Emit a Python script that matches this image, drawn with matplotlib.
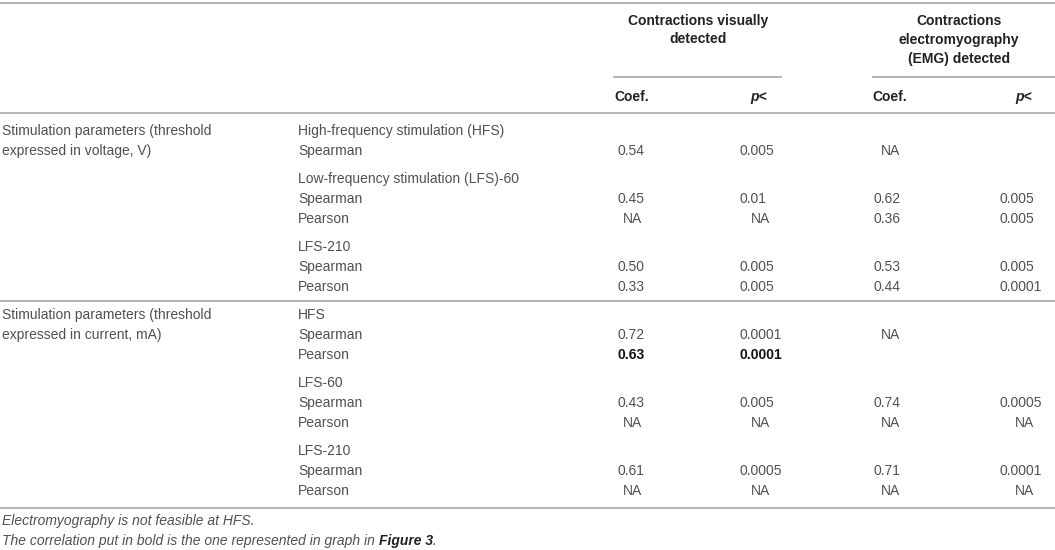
import matplotlib
matplotlib.use("Agg")
import matplotlib.pyplot as plt

# ---- data ----
section_labels = ["Stimulation parameters (threshold\nexpressed in voltage, V)",
                  "Stimulation parameters (threshold\nexpressed in current, mA)"]
group_labels = [["High-frequency stimulation (HFS)", "Low-frequency stimulation (LFS)-60", "LFS-210"],
                ["HFS", "LFS-60", "LFS-210"]]
group_methods = [[["Spearman"], ["Spearman", "Pearson"], ["Spearman", "Pearson"]],
                 [["Spearman", "Pearson"], ["Spearman", "Pearson"], ["Spearman", "Pearson"]]]
vis_coef = ["0.54", "0.45", "NA", "0.50", "0.33", "0.72", "0.63", "0.43", "NA", "0.61", "NA"]
vis_p    = ["0.005", "0.01", "NA", "0.005", "0.005", "0.0001", "0.0001", "0.005", "NA", "0.0005", "NA"]
emg_coef = ["NA", "0.62", "0.36", "0.53", "0.44", "NA", "", "0.74", "NA", "0.71", "NA"]
emg_p    = ["", "0.005", "0.005", "0.005", "0.0001", "", "", "0.0005", "NA", "0.0001", "NA"]
bold_rows = [6]
header_groups = ["Contractions visually\ndetected", "Contractions\nelectromyography\n(EMG) detected"]
sub_headers = ["Coef.", "p<"]
footnotes = ["Electromyography is not feasible at HFS.",
             "The correlation put in bold is the one represented in graph in "]
footnote_bold = "Figure 3"

# ---- style ----
FONT = "Liberation Sans"
plt.rcParams['font.family'] = [FONT, 'DejaVu Sans']
TXT = "#505050"
HDR = "#222222"
LINE = "#b5b5b5"
FS = 10

fig = plt.figure(figsize=(10.55, 5.5), dpi=100)
ax = fig.add_axes([0, 0, 1, 1])
ax.set_xlim(0, 1055)
ax.set_ylim(550, 0)
ax.axis("off")

def hline(y, x0=0, x1=1055):
    ax.plot([x0, x1], [y, y], color=LINE, lw=1.4, solid_capstyle="butt")

hline(2.5)
hline(113)
hline(77, 613, 782)
hline(77, 872, 1055)

# headers
ax.text(698, 30, header_groups[0], ha="center", va="center", fontsize=FS, fontweight="bold",
        color=HDR, linespacing=1.45)
ax.text(959, 40, header_groups[1], ha="center", va="center", fontsize=FS, fontweight="bold",
        color=HDR, linespacing=1.45)
ax.text(632, 97, sub_headers[0], ha="center", va="center", fontsize=FS, fontweight="bold", color=HDR)
ax.text(759, 97, sub_headers[1], ha="center", va="center", fontsize=FS, fontweight="bold",
        style="italic", color=HDR)
ax.text(890, 97, sub_headers[0], ha="center", va="center", fontsize=FS, fontweight="bold", color=HDR)
ax.text(1024, 97, sub_headers[1], ha="center", va="center", fontsize=FS, fontweight="bold",
        style="italic", color=HDR)

def put_val(s, xc, xl, y, bold):
    if not s:
        return
    kw = dict(va="center", fontsize=FS, color=("#111111" if bold else TXT),
              fontweight=("bold" if bold else "normal"))
    if s == "NA":
        ax.text(xc, y, s, ha="center", **kw)
    else:
        ax.text(xl, y, s, ha="left", **kw)

y = 131
row = 0
for si, sec in enumerate(section_labels):
    ax.text(2, y + 10, sec, ha="left", va="center", fontsize=FS, color=TXT,
            linespacing=1.6)
    for gi, g in enumerate(group_labels[si]):
        ax.text(298, y, g, ha="left", va="center", fontsize=FS, color=TXT)
        for m in group_methods[si][gi]:
            y += 20
            ax.text(298, y, m, ha="left", va="center", fontsize=FS, color=TXT)
            b = row in bold_rows
            put_val(vis_coef[row], 632, 618, y, b)
            put_val(vis_p[row], 760, 740, y, b)
            put_val(emg_coef[row], 890, 873, y, b)
            put_val(emg_p[row], 1025, 1000, y, b)
            row += 1
        y += 28
    if si == 0:
        hline(y - 14)
hline(508)

ax.text(2, 521, footnotes[0], ha="left", va="center", fontsize=FS, color=TXT, style="italic")
t = ax.text(2, 541, footnotes[1], ha="left", va="center", fontsize=FS, color=TXT, style="italic")
fig.canvas.draw()
bb = t.get_window_extent()
x_end = ax.transData.inverted().transform((bb.x1, bb.y0))[0]
t2 = ax.text(x_end, 541, footnote_bold, ha="left", va="center", fontsize=FS, color=HDR,
             style="italic", fontweight="bold")
fig.canvas.draw()
bb2 = t2.get_window_extent()
x_end2 = ax.transData.inverted().transform((bb2.x1, bb2.y0))[0]
ax.text(x_end2, 541, ".", ha="left", va="center", fontsize=FS, color=TXT, style="italic")

fig.savefig("out.png", dpi=100)
